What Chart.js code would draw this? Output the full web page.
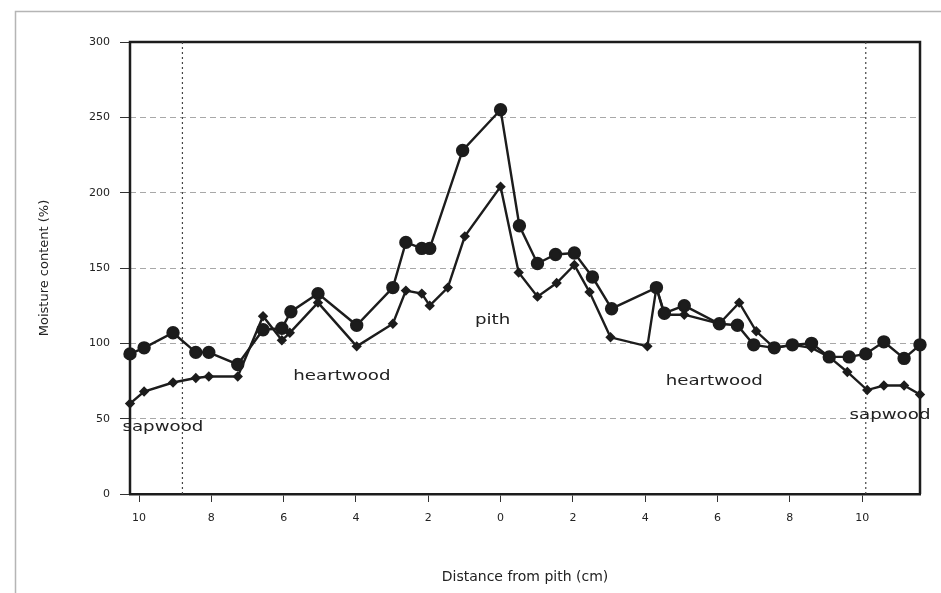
<!DOCTYPE html>
<html>
<head>
<meta charset="utf-8">
<script src="https://cdn.jsdelivr.net/npm/chart.js@4/dist/chart.umd.min.js"></script>
<style>
  html, body { margin: 0; padding: 0; background: #fff; }
  .chart-container { width: 941px; height: 593px; }
</style>
</head>
<body>
<div class="chart-container"><canvas id="chart"></canvas></div>
<script>
// distance from pith (cm), negative = left side of the disc
var outerDistance = [-10.25, -9.86, -9.06, -8.43, -8.07, -7.27, -6.57, -6.05, -5.8, -5.05,
    -3.98, -2.98, -2.62, -2.18, -1.96, -1.05, 0, 0.52, 1.02, 1.52, 2.04, 2.54, 3.07,
    4.31, 4.53, 5.08, 6.05, 6.55, 7.0, 7.57, 8.07, 8.6, 9.09, 9.64, 10.1, 10.6, 11.16, 11.6];
var outerMoisture = [93, 97, 107, 94, 94, 86, 109, 110, 121, 133,
    112, 137, 167, 163, 163, 228, 255, 178, 153, 159, 160, 144, 123,
    137, 120, 125, 113, 112, 99, 97, 99, 100, 91, 91, 93, 101, 90, 99];

var innerDistance = [-10.25, -9.86, -9.06, -8.43, -8.07, -7.27, -6.57, -6.05, -5.83, -5.05,
    -3.98, -2.98, -2.62, -2.18, -1.96, -1.46, -0.99, 0, 0.5, 1.02, 1.55, 2.04, 2.46, 3.04,
    4.06, 4.31, 4.53, 5.08, 6.05, 6.6, 7.07, 7.57, 8.07, 8.6, 9.09, 9.59, 10.14, 10.6, 11.16, 11.6];
var innerMoisture = [60, 68, 74, 77, 78, 78, 118, 102, 107, 127,
    98, 113, 135, 133, 125, 137, 171, 204, 147, 131, 140, 152, 134, 104,
    98, 137, 119, 119, 113, 127, 108, 97, 99, 97, 91, 81, 69, 72, 72, 66];

var xTicks = [-10, -8, -6, -4, -2, 0, 2, 4, 6, 8, 10];
var sapwoodBoundary = [-8.8, 10.1];

function toPoints(xs, ys) {
    return xs.map(function (x, i) { return { x: x, y: ys[i] }; });
}

var ink = '#1c1c1c';

var woodNotes = {
    id: 'woodNotes',
    beforeDraw: function (chart) {
        var ctx = chart.ctx;
        ctx.save();
        ctx.fillStyle = '#fff';
        ctx.fillRect(0, 0, chart.width, chart.height);
        ctx.strokeStyle = '#b5b5b5';
        ctx.lineWidth = 1.5;
        ctx.strokeRect(15.5, 11.5, chart.width + 10, chart.height + 10);
        ctx.restore();
    },
    beforeDatasetsDraw: function (chart, args, opts) {
        var ctx = chart.ctx, a = chart.chartArea;
        var xs = chart.scales.x, ys = chart.scales.y;
        ctx.save();
        // plot frame (left, top, right)
        ctx.strokeStyle = ink;
        ctx.lineWidth = 2.5;
        ctx.beginPath();
        ctx.moveTo(a.left, a.bottom);
        ctx.lineTo(a.left, a.top);
        ctx.lineTo(a.right, a.top);
        ctx.lineTo(a.right, a.bottom);
        ctx.stroke();
        // sapwood / heartwood boundaries
        ctx.lineWidth = 1.2;
        ctx.strokeStyle = '#444';
        ctx.setLineDash([2, 3]);
        opts.lines.forEach(function (v) {
            var px = xs.getPixelForValue(v);
            ctx.beginPath();
            ctx.moveTo(px, a.top);
            ctx.lineTo(px, a.bottom);
            ctx.stroke();
        });
        ctx.setLineDash([]);
        // region labels
        ctx.fillStyle = '#222';
        ctx.font = '14px "DejaVu Sans"';
        ctx.textAlign = 'center';
        ctx.textBaseline = 'middle';
        opts.labels.forEach(function (l) {
            var px = xs.getPixelForValue(l.x), py = ys.getPixelForValue(l.y);
            ctx.save();
            ctx.translate(px, py);
            ctx.scale(1.3, 1);
            ctx.fillText(l.text, 0, 0);
            ctx.restore();
        });
        ctx.restore();
    }
};

window.onload = function () {
    var ctx = document.getElementById('chart').getContext('2d');
    new Chart(ctx, {
        type: 'line',
        data: {
            datasets: [{
                label: 'outer',
                data: toPoints(outerDistance, outerMoisture),
                borderColor: ink,
                backgroundColor: ink,
                borderWidth: 2.4,
                pointRadius: 5.5,
                pointStyle: 'circle',
                tension: 0,
                clip: false
            }, {
                label: 'inner',
                data: toPoints(innerDistance, innerMoisture),
                borderColor: ink,
                backgroundColor: ink,
                borderWidth: 2.4,
                pointRadius: 3.5,
                pointStyle: 'rectRot',
                tension: 0,
                clip: false
            }]
        },
        options: {
            responsive: true,
            maintainAspectRatio: false,
            animation: false,
            layout: { padding: { left: 0, top: 42, right: 21, bottom: 7 } },
            plugins: {
                legend: { display: false },
                tooltip: { enabled: false },
                woodNotes: {
                    lines: sapwoodBoundary,
                    labels: [
                        { text: 'sapwood', x: -9.34, y: 44 },
                        { text: 'heartwood', x: -4.39, y: 78 },
                        { text: 'pith', x: -0.22, y: 115 },
                        { text: 'heartwood', x: 5.91, y: 75 },
                        { text: 'sapwood', x: 10.77, y: 52 }
                    ]
                }
            },
            scales: {
                x: {
                    type: 'linear',
                    min: -10.25,
                    max: 11.6,
                    afterBuildTicks: function (scale) {
                        scale.ticks = xTicks.map(function (v) { return { value: v }; });
                    },
                    afterFit: function (scale) { scale.height = 92; },
                    border: { color: ink, width: 2.5 },
                    grid: {
                        drawOnChartArea: false,
                        tickLength: 8,
                        tickColor: '#333',
                        tickWidth: 1
                    },
                    ticks: {
                        color: '#222',
                        padding: 10,
                        maxRotation: 0,
                        font: { family: 'DejaVu Sans', size: 11 },
                        callback: function (v) { return Math.abs(v); }
                    },
                    title: {
                        display: true,
                        text: 'Distance from pith (cm)',
                        color: '#222',
                        padding: { top: 0, bottom: 0 },
                        font: { family: 'DejaVu Sans', size: 14 }
                    }
                },
                y: {
                    min: 0,
                    max: 300,
                    afterFit: function (scale) { scale.width = 130; },
                    border: { display: false, dash: [6, 4] },
                    grid: {
                        color: function (c) {
                            return (c.tick.value === 0 || c.tick.value === 300) ? 'rgba(0,0,0,0)' : '#a8a8a8';
                        },
                        lineWidth: 1,
                        tickBorderDash: [],
                        tickColor: '#333',
                        tickLength: 10,
                        tickWidth: 1
                    },
                    ticks: {
                        stepSize: 50,
                        color: '#222',
                        padding: 10,
                        font: { family: 'DejaVu Sans', size: 11 }
                    },
                    title: {
                        display: true,
                        text: 'Moisture content (%)',
                        color: '#222',
                        padding: { top: 37, bottom: 0 },
                        font: { family: 'DejaVu Sans', size: 13 }
                    }
                }
            }
        },
        plugins: [woodNotes]
    });
};
</script>
</body>
</html>
